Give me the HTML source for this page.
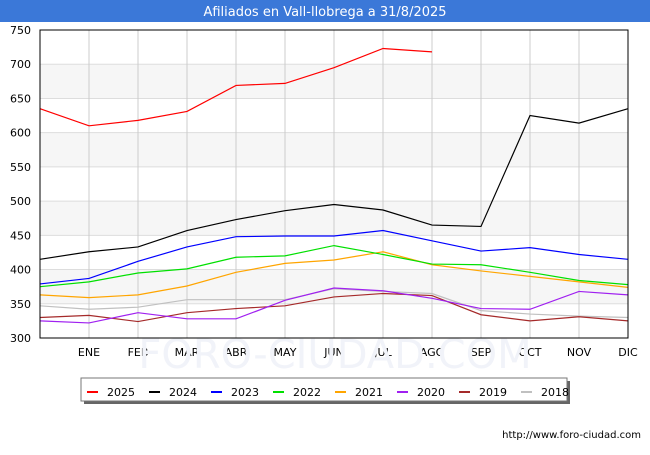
<!DOCTYPE html>
<html><head><meta charset="utf-8"><style>
body{margin:0;background:#fff;font-family:"Liberation Sans","DejaVu Sans",sans-serif}
svg text{font-family:"DejaVu Sans","Liberation Sans",sans-serif}
</style></head><body>
<svg id="c" width="650" height="450" xmlns="http://www.w3.org/2000/svg">
<rect x="0" y="0" width="650" height="22" fill="#3b78d8"/>
<text x="325" y="16" text-anchor="middle" fill="#fff" font-size="13">Afiliados en Vall-llobrega a 31/8/2025</text>
<g id="plot"></g>
<text x="641" y="438" text-anchor="end" font-size="10" fill="#000">http://www.foro-ciudad.com</text>
</svg>
<script>
const months=["","ENE","FEB","MAR","ABR","MAY","JUN","JUL","AGO","SEP","OCT","NOV","DIC"];
const yTicks=[300,350,400,450,500,550,600,650,700,750];
const seriesNames=["2025","2024","2023","2022","2021","2020","2019","2018"];
const colors=["#ff0000","#000000","#0000ff","#00e000","#ffa500","#a020f0","#a52a2a","#c0c0c0"];
const s2025=[635,610,618,631,669,672,695,723,718];
const s2024=[415,426,433,457,473,486,495,487,465,463,625,614,635];
const s2023=[379,387,412,433,448,449,449,457,442,427,432,422,415];
const s2022=[375,382,395,401,418,420,435,422,408,407,396,384,378];
const s2021=[363,359,363,376,396,409,414,426,407,398,390,382,374];
const s2020=[325,322,337,328,328,355,373,369,358,343,342,368,363];
const s2019=[330,333,324,337,343,347,360,365,362,334,325,331,325];
const s2018=[347,342,345,356,356,356,372,368,365,340,335,332,330];
const allSeries=[s2025,s2024,s2023,s2022,s2021,s2020,s2019,s2018];
const X0=40,X1=628,Y0=30,Y1=338,VMIN=300,VMAX=750;
const xs=i=>X0+i*(X1-X0)/12;
const ys=v=>Y1-(v-VMIN)*(Y1-Y0)/(VMAX-VMIN);
const NS="http://www.w3.org/2000/svg";
const g=document.getElementById('plot');
function mk(t,a,p){const e=document.createElementNS(NS,t);for(const k in a)e.setAttribute(k,a[k]);(p||g).appendChild(e);return e;}
for(let i=0;i<yTicks.length-1;i++){
  if(i%2==1){const r=mk('rect',{x:X0,y:ys(yTicks[i+1]),width:X1-X0,height:ys(yTicks[i])-ys(yTicks[i+1]),fill:'#f6f6f6'});
  
  }
}
yTicks.forEach(v=>{
  const l=mk('line',{x1:X0,x2:X1,y1:ys(v),y2:ys(v),stroke:'#dddddd','stroke-width':1});
  
  
  const t=mk('text',{x:X0-9,y:ys(v)+4,'text-anchor':'end','font-size':11,fill:'#000'});t.textContent=v;
  
  
});
months.forEach((m,i)=>{
  if(i>0){const l=mk('line',{x1:xs(i),x2:xs(i),y1:Y0,y2:Y1,stroke:'#cccccc','stroke-width':1});
  
  
  const t=mk('text',{x:xs(i),y:356,'text-anchor':'middle','font-size':11,fill:'#000'});t.textContent=m;
  
  }
});
const wm=mk('text',{x:335,y:368,'text-anchor':'middle','font-size':40,fill:'#f1f3f9'});wm.textContent="FORO-CIUDAD.COM";


for(let k=allSeries.length-1;k>=0;k--){
  const pts=allSeries[k].map((v,i)=>xs(i)+','+ys(v)).join(' ');
  const p=mk('polyline',{points:pts,fill:'none',stroke:colors[k],'stroke-width':1.2});
  
  
}
const ax=mk('rect',{x:X0,y:Y0,width:X1-X0,height:Y1-Y0,fill:'none',stroke:'#000','stroke-width':1});


const lg=mk('g',{});


mk('rect',{x:84,y:381,width:486,height:23,fill:'#666'},lg);
mk('rect',{x:81,y:378,width:486,height:23,fill:'#fff',stroke:'#777'},lg);
seriesNames.forEach((n,k)=>{
  const x0=87+k*62;
  const e=mk('g',{},lg);
  
  
  mk('line',{x1:x0,x2:x0+11,y1:392,y2:392,stroke:colors[k],'stroke-width':2},e);
  const t=mk('text',{x:x0+20,y:396,'font-size':11,fill:'#000'},e);t.textContent=n;
});
</script>
</body></html>
